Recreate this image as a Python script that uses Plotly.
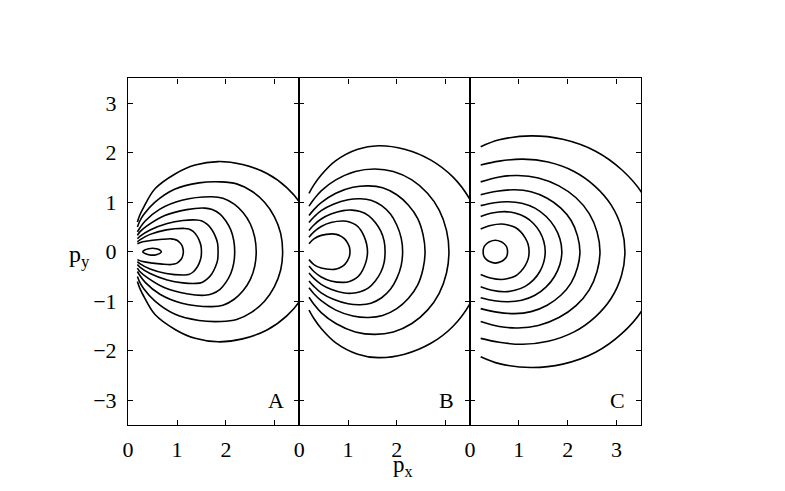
import plotly.graph_objects as go
from plotly.subplots import make_subplots

# contour lines: upper half of each line (start -> y=0),
# the lower half is the mirror image about p_y = 0
a_x = [
    [0.19, 0.24, 0.32, 0.55, 0.96, 1.37, 1.84, 2.34, 2.84, 3.25, 3.57, 3.77, 3.84],
    [0.19, 0.24, 0.32, 0.55, 0.95, 1.45, 1.9, 2.22, 2.53, 2.79, 2.99, 3.12, 3.16],
    [0.19, 0.24, 0.35, 0.65, 1.1, 1.71, 1.94, 2.17, 2.35, 2.5, 2.59, 2.62],
    [0.19, 0.24, 0.4, 0.75, 1.2, 1.57, 1.72, 1.88, 2.0, 2.1, 2.16, 2.18],
    [0.19, 0.24, 0.45, 0.8, 1.12, 1.4, 1.51, 1.62, 1.71, 1.78, 1.83, 1.84],
    [0.19, 0.24, 0.45, 0.78, 1.15, 1.24, 1.33, 1.4, 1.45, 1.49, 1.5],
    [0.19, 0.3, 0.5, 0.7, 0.88, 0.94, 1.0, 1.06, 1.1, 1.12, 1.13],
    [0.3, 0.34, 0.42, 0.5, 0.58, 0.64, 0.68],
]
a_y = [
    [0.6, 0.74, 0.9, 1.27, 1.57, 1.75, 1.82, 1.76, 1.58, 1.29, 0.91, 0.47, 0.0],
    [0.5, 0.62, 0.75, 1.0, 1.26, 1.39, 1.41, 1.37, 1.22, 1.0, 0.71, 0.37, 0.0],
    [0.4, 0.48, 0.62, 0.86, 1.04, 1.11, 1.08, 0.96, 0.79, 0.56, 0.29, 0.0],
    [0.33, 0.4, 0.53, 0.73, 0.85, 0.88, 0.85, 0.76, 0.62, 0.44, 0.23, 0.0],
    [0.26, 0.31, 0.44, 0.57, 0.63, 0.64, 0.62, 0.55, 0.45, 0.32, 0.17, 0.0],
    [0.2, 0.24, 0.35, 0.44, 0.47, 0.46, 0.41, 0.33, 0.24, 0.12, 0.0],
    [0.16, 0.2, 0.23, 0.25, 0.26, 0.25, 0.23, 0.18, 0.13, 0.07, 0.0],
    [0.0, 0.035, 0.06, 0.07, 0.06, 0.04, 0.0],
]

b_x = [
    [0.2, 0.3, 0.45, 0.75, 1.2, 1.62, 2.16, 2.7, 3.15, 3.49, 3.71, 3.78],
    [0.2, 0.3, 0.45, 0.75, 1.15, 1.55, 1.93, 2.31, 2.63, 2.87, 3.02, 3.07],
    [0.2, 0.3, 0.45, 0.75, 1.1, 1.42, 1.71, 2.0, 2.24, 2.43, 2.54, 2.58],
    [0.2, 0.3, 0.45, 0.7, 1.0, 1.25, 1.47, 1.69, 1.87, 2.0, 2.09, 2.12],
    [0.2, 0.3, 0.45, 0.65, 0.9, 1.08, 1.25, 1.42, 1.56, 1.67, 1.74, 1.76],
    [0.2, 0.3, 0.45, 0.65, 0.91, 1.03, 1.16, 1.26, 1.33, 1.38, 1.4],
    [0.2, 0.3, 0.45, 0.67, 0.76, 0.86, 0.93, 0.99, 1.03, 1.04],
]
b_y = [
    [1.18, 1.35, 1.55, 1.84, 2.07, 2.14, 2.07, 1.85, 1.51, 1.07, 0.55, 0.0],
    [0.92, 1.06, 1.23, 1.45, 1.62, 1.67, 1.62, 1.45, 1.18, 0.84, 0.43, 0.0],
    [0.73, 0.85, 0.99, 1.18, 1.3, 1.33, 1.29, 1.15, 0.94, 0.67, 0.34, 0.0],
    [0.59, 0.7, 0.83, 0.96, 1.05, 1.07, 1.04, 0.93, 0.76, 0.54, 0.28, 0.0],
    [0.43, 0.54, 0.66, 0.76, 0.83, 0.84, 0.81, 0.73, 0.59, 0.42, 0.22, 0.0],
    [0.29, 0.4, 0.51, 0.59, 0.62, 0.6, 0.54, 0.44, 0.31, 0.16, 0.0],
    [0.16, 0.26, 0.33, 0.36, 0.35, 0.31, 0.26, 0.18, 0.09, 0.0],
]

c_x = [
    [0.22, 0.6, 1.25, 1.9, 2.57, 3.11, 3.53, 3.79, 3.88],
    [0.22, 0.6, 1.08, 1.6, 2.13, 2.56, 2.89, 3.1, 3.17],
    [0.22, 0.6, 0.98, 1.4, 1.82, 2.17, 2.44, 2.6, 2.66],
    [0.22, 0.55, 0.91, 1.25, 1.58, 1.86, 2.07, 2.2, 2.25],
    [0.22, 0.5, 0.78, 1.06, 1.33, 1.56, 1.73, 1.84, 1.88],
    [0.22, 0.45, 0.71, 0.92, 1.13, 1.3, 1.43, 1.51, 1.54],
    [0.22, 0.42, 0.64, 0.78, 0.93, 1.04, 1.13, 1.19, 1.21],
    [0.27, 0.29, 0.34, 0.4, 0.52, 0.64, 0.7, 0.75, 0.77],
]
c_y = [
    [2.12, 2.26, 2.34, 2.27, 2.03, 1.65, 1.17, 0.61, 0.0],
    [1.75, 1.83, 1.87, 1.81, 1.62, 1.32, 0.94, 0.48, 0.0],
    [1.41, 1.51, 1.54, 1.49, 1.33, 1.09, 0.77, 0.4, 0.0],
    [1.15, 1.22, 1.25, 1.21, 1.08, 0.88, 0.63, 0.32, 0.0],
    [0.93, 0.99, 1.01, 0.98, 0.88, 0.71, 0.5, 0.26, 0.0],
    [0.71, 0.78, 0.81, 0.78, 0.7, 0.57, 0.4, 0.21, 0.0],
    [0.46, 0.53, 0.56, 0.54, 0.49, 0.4, 0.28, 0.15, 0.0],
    [0.0, 0.1, 0.16, 0.2, 0.23, 0.2, 0.16, 0.1, 0.0],
]

panel_names = ["A", "B", "C"]
y_ticks = [-3, -2, -1, 0, 1, 2, 3]
y_labels = ["\u22123", "\u22122", "\u22121", "0", "1", "2", "3"]
x_ticks = [0, 1, 2, 3]
x_labels = [["0", "1", "2", ""], ["0", "1", "2", ""], ["0", "1", "2", "3"]]

FONT = "Liberation Serif"

fig = make_subplots(rows=1, cols=3, horizontal_spacing=0)

panels = [(a_x, a_y), (b_x, b_y), (c_x, c_y)]
for col, (px, py) in enumerate(panels, start=1):
    for xs, ys in zip(px, py):
        # mirror the upper half to close the line below the axis
        full_x = xs + xs[-2::-1]
        full_y = ys + [-v for v in ys[-2::-1]]
        fig.add_trace(go.Scatter(x=full_x, y=full_y, mode="lines",
                                 line=dict(color="black", width=1.6, shape="spline"),
                                 showlegend=False, hoverinfo="skip"),
                      row=1, col=col)

# page body adds an 8px margin, so the figure is a bit smaller than the window
W, H = 769, 475
x_edges = [115, 287.5, 459.5, 632]
y_top, y_bot = 70.4, 417

for i in range(3):
    n = "" if i == 0 else str(i + 1)
    fig.layout["xaxis" + n].update(
        domain=[x_edges[i] / W, x_edges[i + 1] / W], range=[0, 3.5],
        tickvals=x_ticks, ticktext=x_labels[i], ticks="inside", ticklen=5,
        tickwidth=1, tickcolor="black", showline=True, linewidth=1.3,
        linecolor="black", mirror="ticks", showgrid=False, zeroline=False,
        ticklabelstandoff=4, tickfont=dict(family=FONT, size=22, color="black"))
    fig.layout["yaxis" + n].update(
        domain=[1 - y_bot / H, 1 - y_top / H], range=[-3.5, 3.5],
        tickvals=y_ticks, ticktext=y_labels, ticks="inside", ticklen=5,
        tickwidth=1, tickcolor="black", showline=True, linewidth=1.3,
        linecolor="black", mirror="ticks", showgrid=False, zeroline=False,
        showticklabels=(i == 0), ticklabelstandoff=6,
        tickfont=dict(family=FONT, size=22, color="black"))
    fig.add_annotation(x=3.02, y=-3.0, xref="x" + n, yref="y" + n,
                       text=panel_names[i], showarrow=False,
                       xanchor="center", yanchor="middle",
                       font=dict(family=FONT, size=22, color="black"))

fig.add_annotation(x=392 / W, y=1 - 458 / H, xref="paper", yref="paper",
                   text="p<sub>x</sub>", showarrow=False,
                   xanchor="center", yanchor="middle",
                   font=dict(family=FONT, size=23, color="black"))
fig.add_annotation(x=66 / W, y=1 - 248 / H, xref="paper", yref="paper",
                   text="p<sub>y</sub>", showarrow=False,
                   xanchor="center", yanchor="middle",
                   font=dict(family=FONT, size=24, color="black"))

fig.update_layout(width=W, height=H, margin=dict(l=0, r=0, t=0, b=0),
                  paper_bgcolor="white", plot_bgcolor="white")

fig.write_html("out.html")
